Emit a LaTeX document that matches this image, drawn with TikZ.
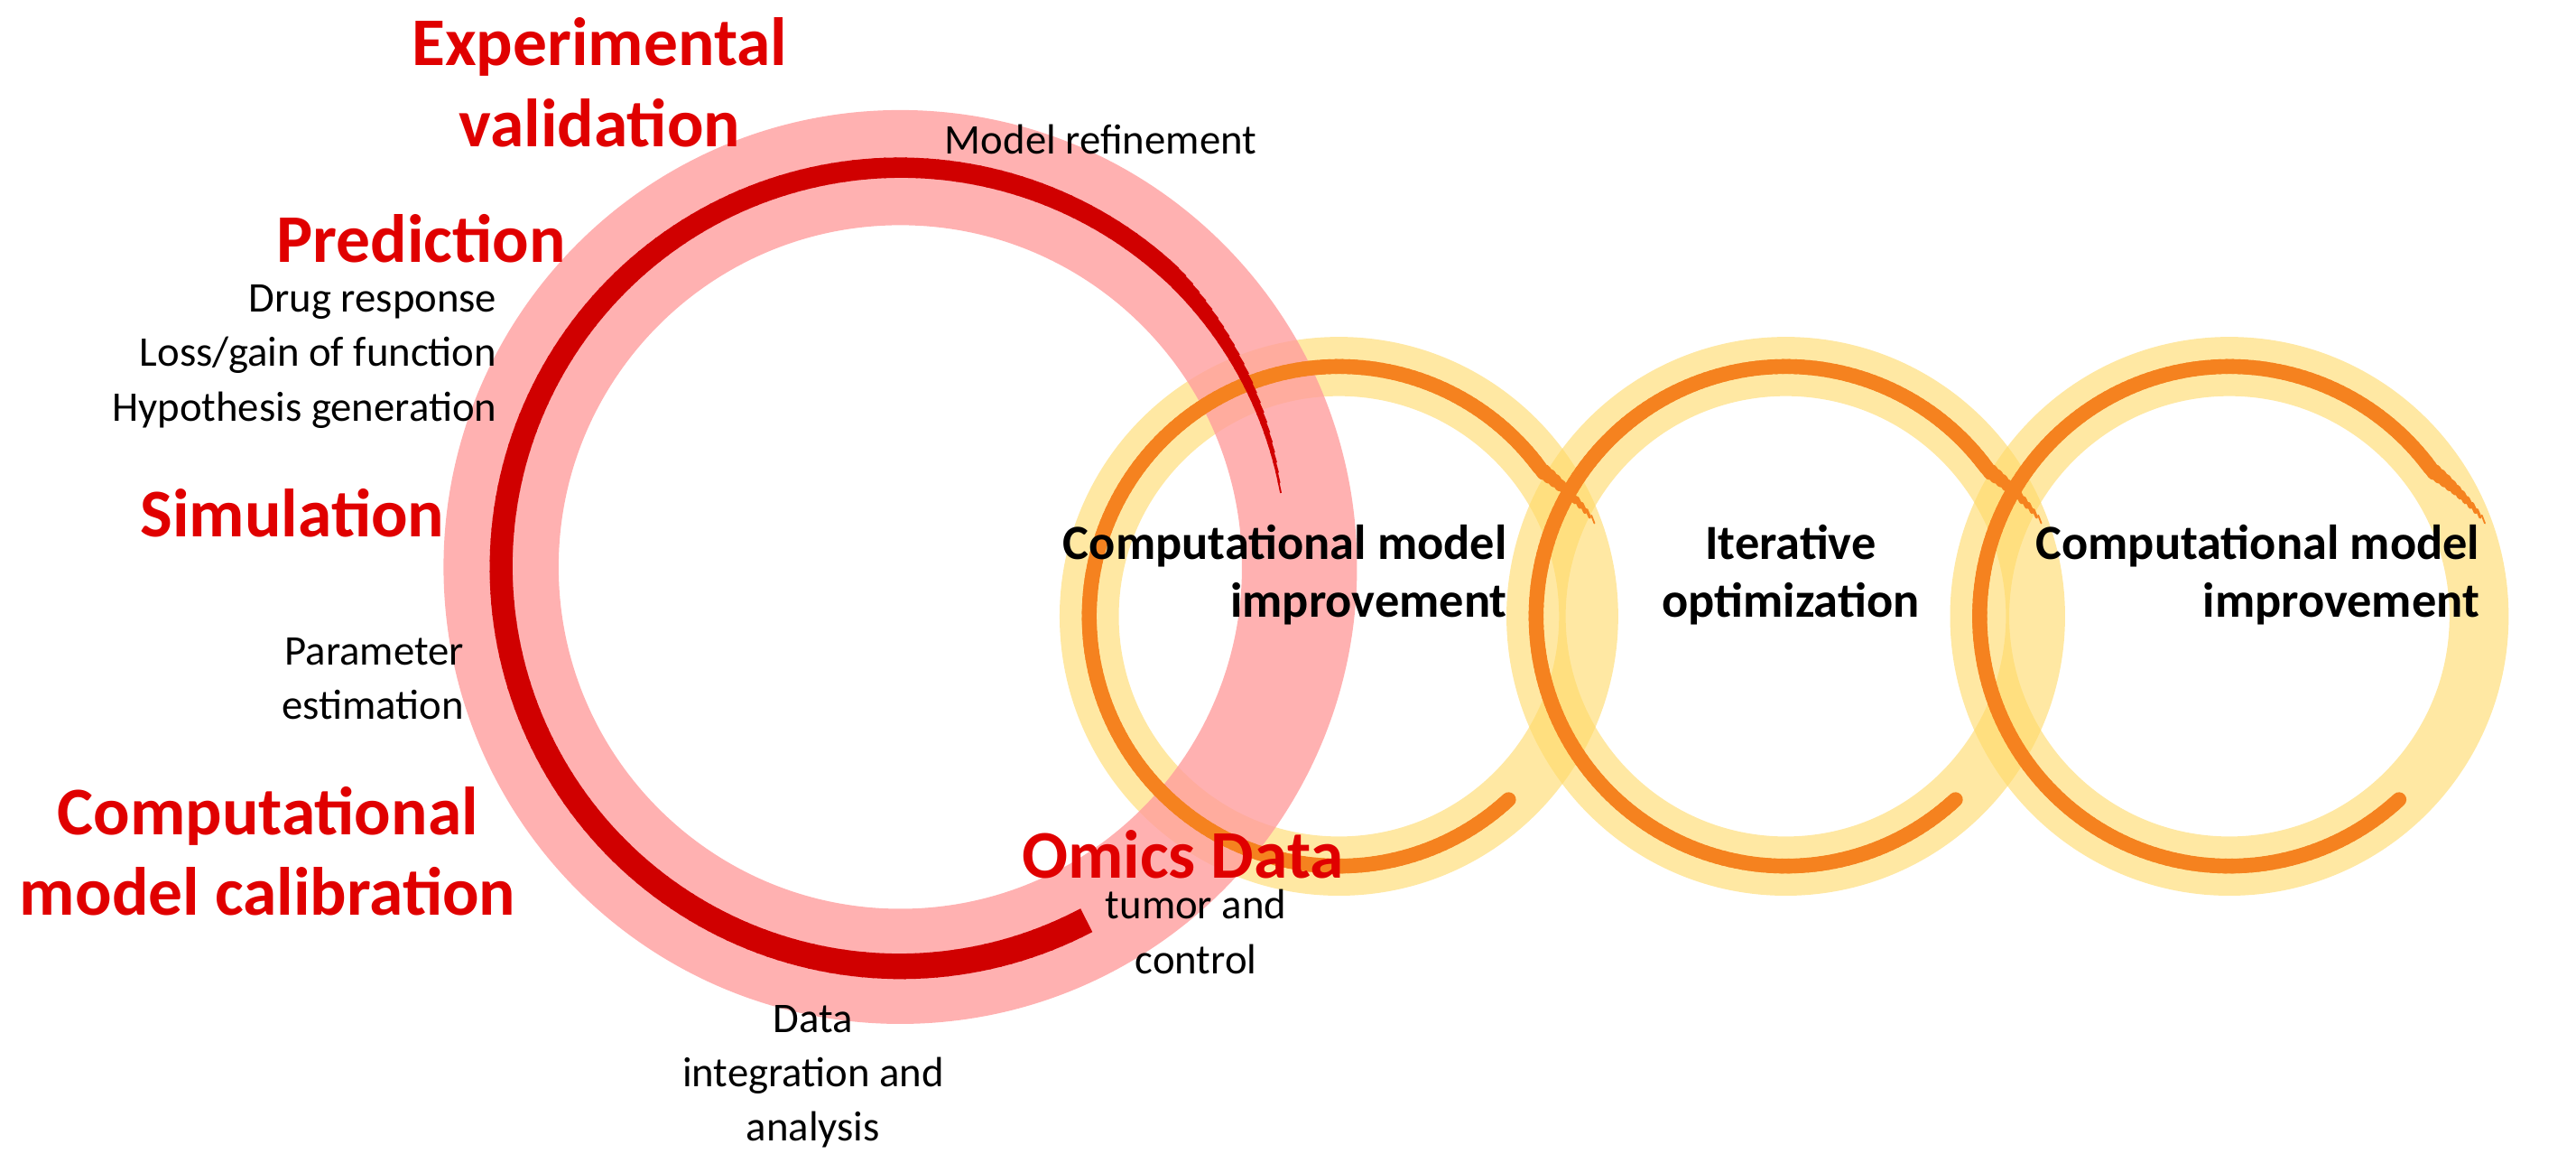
\documentclass[tikz,border=0pt]{standalone}
\usepackage{fontspec}
\setmainfont{Carlito}
\begin{document}
\begin{tikzpicture}[x=0.01cm,y=-0.01cm,
  hdr/.style={text=redT,font=\fontsize{11.8}{14}\selectfont\bfseries,align=center,inner sep=0},
  sm/.style={font=\fontsize{7.3}{9.4}\selectfont,inner sep=0},
  bl/.style={font=\fontsize{8.5}{10}\selectfont\bfseries,inner sep=0}]
\definecolor{redT}{HTML}{E00000}
\definecolor{darkred}{HTML}{D00000}
\definecolor{pinkR}{HTML}{FF9E9E}
\definecolor{yel}{HTML}{FFD966}
\definecolor{orng}{HTML}{F5821F}
\useasboundingbox (0,0) rectangle (1568,707.6);
% yellow rings
\foreach \cx in {815,1087,1357}{
  \draw[yel,opacity=0.6,line width=0.36cm] (\cx,375) circle (152);
}
% pink ring
\draw[pinkR,opacity=0.8,line width=0.70cm] (548,345) circle (243);
% orange arcs
\foreach \cx in {815,1087,1357}{
  \foreach \a in {20,21.5,...,312}{
    \pgfmathsetmacro{\w}{min(9,1+(\a-20)*0.5)}
    \pgfmathsetmacro{\r}{152+max(0,(35-\a))*0.9}
    \pgfmathsetmacro{\b}{\a+1.8}
    \draw[orng,line width=\w*0.01cm,line cap=round]
      ({\cx+\r*cos(\a)},{375-\r*sin(\a)}) -- ({\cx+\r*cos(\b)},{375-\r*sin(\b)});
  }
}
% red arc
\foreach \a in {11,12.5,...,297}{
  \pgfmathsetmacro{\w}{min(11,1+(\a-11)*0.28)+(\a-11)*5/288}
  \pgfmathsetmacro{\r}{236+min(7,(\a-11)*0.2)}
  \pgfmathsetmacro{\b}{\a+1.8}
  \draw[darkred,line width=\w*0.01cm]
    ({548+\r*cos(\a)},{345-\r*sin(\a)}) -- ({548+\r*cos(\b)},{345-\r*sin(\b)});
}
% texts
\node[hdr] (ev) at (365,50) {Experimental\\validation};
\node[hdr,anchor=east] (pr) at (345,145) {Prediction};
\node[sm,anchor=east,align=right] (dr) at (303,217) {Drug response\\Loss/gain of function\\Hypothesis generation};
\node[hdr] (si) at (178,312) {Simulation};
\node[sm,anchor=east,align=right] (pe) at (283,413) {Parameter\\estimation};
\node[hdr] (cc) at (163,518) {Computational\\model calibration};
\node[sm] (mr) at (670,85) {Model refinement};
\node[hdr] (om) at (720,520) {Omics Data};
\node[sm,align=center] (tc) at (728,567) {tumor and\\control};
\node[sm,align=center] (di) at (495,655) {Data\\integration and\\analysis};
\node[bl,anchor=east,align=right] (c1) at (918,350) {Computational model\\improvement};
\node[bl,align=center] (io) at (1090,350) {Iterative\\optimization};
\node[bl,anchor=east,align=right] (c2) at (1510,350) {Computational model\\improvement};
\end{tikzpicture}
\end{document}
